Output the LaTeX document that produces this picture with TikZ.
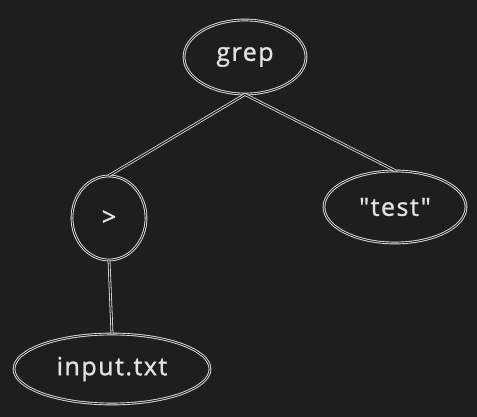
\documentclass[tikz,border=0pt]{standalone}
\usepackage{fontspec}
\newfontfamily\sketchfont[LetterSpace=6, FakeBold=1.2]{Open Sans}
\usetikzlibrary{shapes.geometric}
\definecolor{bg}{HTML}{1E1E1E}
\definecolor{ink}{HTML}{E2E2E2}

\begin{document}
\begin{tikzpicture}[x=1pt, y=-1pt,
    every node/.style={font=\sketchfont\fontsize{25}{28}\selectfont, text=ink},
    blob/.style={draw=ink, ellipse, double=bg, double distance=0.9pt, line width=0.9pt, inner sep=0pt},
    link/.style={draw=ink, double=bg, double distance=1.2pt, line width=0.8pt}]

    % Background
    \fill[bg] (0,0) rectangle (477,417);

    % Nodes
    \node at (245,57) (grep) [blob, minimum width=122, minimum height=74] {grep};
    \node at (109,218) (gt) [blob, minimum width=74, minimum height=84] {>};
    \node at (395,207) (test) [blob, minimum width=142, minimum height=72] {"test"};
    \node at (112,369) (input) [blob, minimum width=196, minimum height=70] {input.txt};

    % Edges
    \draw[link] (grep.south) -- (gt.north);
    \draw[link] (grep.south) -- (test.north);
    \draw[link] (gt.south) -- (input.north);

\end{tikzpicture}
\end{document}
